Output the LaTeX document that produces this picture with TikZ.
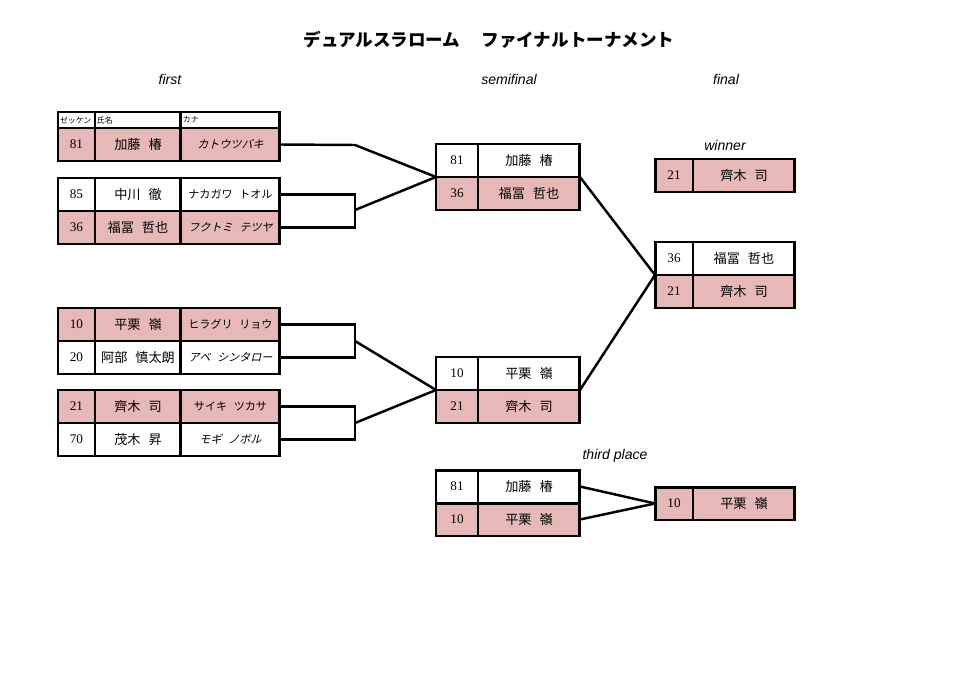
\documentclass[tikz,border=0pt]{standalone}
\usepackage{fontspec}
\usepackage{tikz}
\usetikzlibrary{positioning}
\setmainfont{Liberation Serif}
\newfontfamily\jp{Noto Sans CJK JP}
\newfontfamily\jpslant[FakeSlant=0.25]{Noto Sans CJK JP}
\newfontfamily\lab{Liberation Sans}
\definecolor{rosefill}{RGB}{230,185,184}
\newcommand{\gap}{\hspace{0.6em}}

\tikzset{
  cell/.style={draw, line width=1.7pt, inner sep=0pt, outer sep=0pt,
    minimum height=0.66cm, font=\fontsize{7.5}{9}\selectfont\jp},
  win/.style={cell, fill=rosefill},
  lose/.style={cell, fill=white},
  headcell/.style={draw, line width=1.7pt, inner sep=1pt, outer sep=0pt,
    minimum height=0.32cm, text width=#1, align=left,
    font=\fontsize{4.5}{5}\selectfont\jp},
  roundlabel/.style={font=\fontsize{8}{9}\selectfont\lab\itshape},
  link/.style={line width=1.4pt},
}

% first round: prefix, top y, number, name, kana, style
\newcommand{\firstrow}[6]{%
  \node[#6, minimum width=0.74cm, anchor=north west] (#1n) at (58,#2) {\rmfamily #3};
  \node[#6, minimum width=1.72cm, right=0pt of #1n] (#1m) {#4};
  \node[#6, minimum width=1.98cm, right=0pt of #1m] (#1k) {\fontsize{6.3}{8}\selectfont #5};
}
% later rounds: prefix, x, top y, number, name, style, number width
\newcommand{\laterrow}[7]{%
  \node[#6, minimum width=#7, anchor=north west] (#1n) at (#2,#3) {\rmfamily #4};
  \node[#6, minimum width=2.04cm, right=0pt of #1n] (#1m) {#5};
}

\begin{document}
\begin{tikzpicture}[x=0.02cm, y=-0.02cm]
  \useasboundingbox (0,0) rectangle (980,693);

  \node[font=\fontsize{10}{12}\selectfont\jp\bfseries] (title) at (489,40)
    {デュアルスラローム\hspace{1.2em}ファイナルトーナメント};
  \node[roundlabel] (lfirst) at (170,79) {first};
  \node[roundlabel] (lsemi) at (509,79) {semifinal};
  \node[roundlabel] (lfinal) at (726,79) {final};
  \node[roundlabel] (lwinner) at (725,145) {winner};
  \node[roundlabel] (lthird) at (615,456) {third place};

  % first round
  \node[headcell=0.66cm, minimum width=0.74cm, anchor=north west] (h1) at (58,112) {ゼッケン};
  \node[headcell=1.64cm, minimum width=1.72cm, right=0pt of h1] (h2) {氏名};
  \node[headcell=1.90cm, minimum width=1.98cm, right=0pt of h2] (h3) {カナ};
  \firstrow{ta}{128}{81}{加藤\gap 椿}{\jpslant カトウツバキ}{win}
  \firstrow{tb}{178}{85}{中川\gap 徹}{ナカガワ\gap トオル}{lose}
  \firstrow{tc}{211}{36}{福冨\gap 哲也}{\jpslant フクトミ\gap テツヤ}{win}
  \firstrow{td}{308}{10}{平栗\gap 嶺}{ヒラグリ\gap リョウ}{win}
  \firstrow{te}{341}{20}{阿部\gap 慎太朗}{\jpslant アベ\gap シンタロー}{lose}
  \firstrow{tf}{390}{21}{齊木\gap 司}{サイキ\gap ツカサ}{win}
  \firstrow{tg}{423}{70}{茂木\gap 昇}{\jpslant モギ\gap ノボル}{lose}

  % semifinal
  \laterrow{sa}{436}{144}{81}{加藤\gap 椿}{lose}{0.84cm}
  \laterrow{sb}{436}{177}{36}{福冨\gap 哲也}{win}{0.84cm}
  \laterrow{sc}{436}{357}{10}{平栗\gap 嶺}{lose}{0.84cm}
  \laterrow{sd}{436}{390}{21}{齊木\gap 司}{win}{0.84cm}

  % third place match
  \laterrow{pa}{436}{470}{81}{加藤\gap 椿}{lose}{0.84cm}
  \laterrow{pb}{436}{503}{10}{平栗\gap 嶺}{win}{0.84cm}

  % final, winner, third
  \laterrow{fa}{655}{242}{36}{福冨\gap 哲也}{lose}{0.76cm}
  \laterrow{fb}{655}{275}{21}{齊木\gap 司}{win}{0.76cm}
  \laterrow{wa}{655}{159}{21}{齊木\gap 司}{win}{0.76cm}
  \laterrow{ra}{655}{487}{10}{平栗\gap 嶺}{win}{0.76cm}

  % brackets
  \coordinate (ka) at (355,145);
  \coordinate (kb) at (355,210);
  \coordinate (kc) at (355,341);
  \coordinate (kd) at (355,423);
  \draw[link] (tak.east) -- (ka) -- (sbn.north west);
  \draw[link] (tbk.east) -| (kb) |- (tck.east);
  \draw[link] (kb) -- (sbn.north west);
  \draw[link] (tdk.east) -| (kc) |- (tek.east);
  \draw[link] (kc) -- (sdn.north west);
  \draw[link] (tfk.east) -| (kd) |- (tgk.east);
  \draw[link] (kd) -- (sdn.north west);
  \draw[link] (sbm.north east) -- (fbn.north west);
  \draw[link] (sdm.north east) -- (fbn.north west);
  \draw[link] (pam.east) -- (ran.west);
  \draw[link] (pbm.east) -- (ran.west);
\end{tikzpicture}
\end{document}
